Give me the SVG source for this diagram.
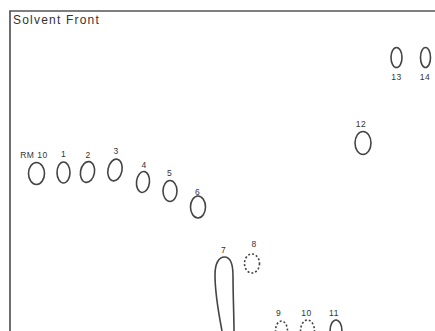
<svg xmlns="http://www.w3.org/2000/svg" width="435" height="331" viewBox="0 0 435 331">
<style>
.frame{fill:none;stroke:#555;stroke-width:1.7}
.spot{fill:none;stroke:#444;stroke-width:1.6}
.dash{stroke-dasharray:2 2}
.lbl{font-family:"Liberation Sans",Arial,sans-serif;font-size:8.5px;fill:#333;text-anchor:middle;letter-spacing:0.5px}
.title{font-family:"Liberation Sans",Arial,sans-serif;font-size:12px;fill:#333;letter-spacing:1.2px}
</style>
<rect width="435" height="331" fill="#fff"/>
<g id="frame">
<path class="frame" d="M10,331 V11 H435"/>
<text class="title" x="13" y="24">Solvent Front</text>
</g>
<g id="spot-rm10"><ellipse class="spot" cx="36.5" cy="173.5" rx="8" ry="11"/><text class="lbl" x="34" y="158">RM 10</text></g>
<g id="spot-1"><ellipse class="spot" cx="63.5" cy="172.5" rx="6.5" ry="10.5"/><text class="lbl" x="63.5" y="157">1</text></g>
<g id="spot-2"><ellipse class="spot" cx="87.5" cy="172" rx="7" ry="10.5" transform="rotate(10 87.5 172)"/><text class="lbl" x="88" y="158">2</text></g>
<g id="spot-3"><ellipse class="spot" cx="115" cy="170" rx="7" ry="11" transform="rotate(12 115 170)"/><text class="lbl" x="116" y="154">3</text></g>
<g id="spot-4"><ellipse class="spot" cx="143" cy="182" rx="6.5" ry="10.5" transform="rotate(6 143 182)"/><text class="lbl" x="144" y="168">4</text></g>
<g id="spot-5"><ellipse class="spot" cx="170" cy="191" rx="7" ry="10.5"/><text class="lbl" x="169.5" y="176">5</text></g>
<g id="spot-6"><ellipse class="spot" cx="198" cy="207" rx="7.5" ry="11"/><text class="lbl" x="197.5" y="195">6</text></g>
<g id="spot-7"><path class="spot" d="M222,331 C219,315 215,295 215,275 C215,263 219,257 224.5,257 C230,257 233,264 233,276 C233,296 234,315 234,331"/><text class="lbl" x="223.5" y="253">7</text></g>
<g id="spot-8"><ellipse class="spot dash" cx="252" cy="263.5" rx="7.5" ry="9.5"/><text class="lbl" x="254" y="247">8</text></g>
<g id="spot-9"><ellipse class="spot dash" cx="281.5" cy="331" rx="6" ry="10"/><text class="lbl" x="278.5" y="316">9</text></g>
<g id="spot-10"><ellipse class="spot dash" cx="307.5" cy="331" rx="7" ry="11"/><text class="lbl" x="306.5" y="316">10</text></g>
<g id="spot-11"><ellipse class="spot" cx="336" cy="331" rx="6" ry="11"/><text class="lbl" x="334" y="316">11</text></g>
<g id="spot-12"><ellipse class="spot" cx="363" cy="143" rx="8" ry="11.5"/><text class="lbl" x="361" y="127">12</text></g>
<g id="spot-13"><ellipse class="spot" cx="396.5" cy="57.5" rx="5.5" ry="10"/><text class="lbl" x="396.5" y="80">13</text></g>
<g id="spot-14"><ellipse class="spot" cx="425.5" cy="57.5" rx="5" ry="10"/><text class="lbl" x="425" y="80">14</text></g>
<g id="connectors"></g>
</svg>
